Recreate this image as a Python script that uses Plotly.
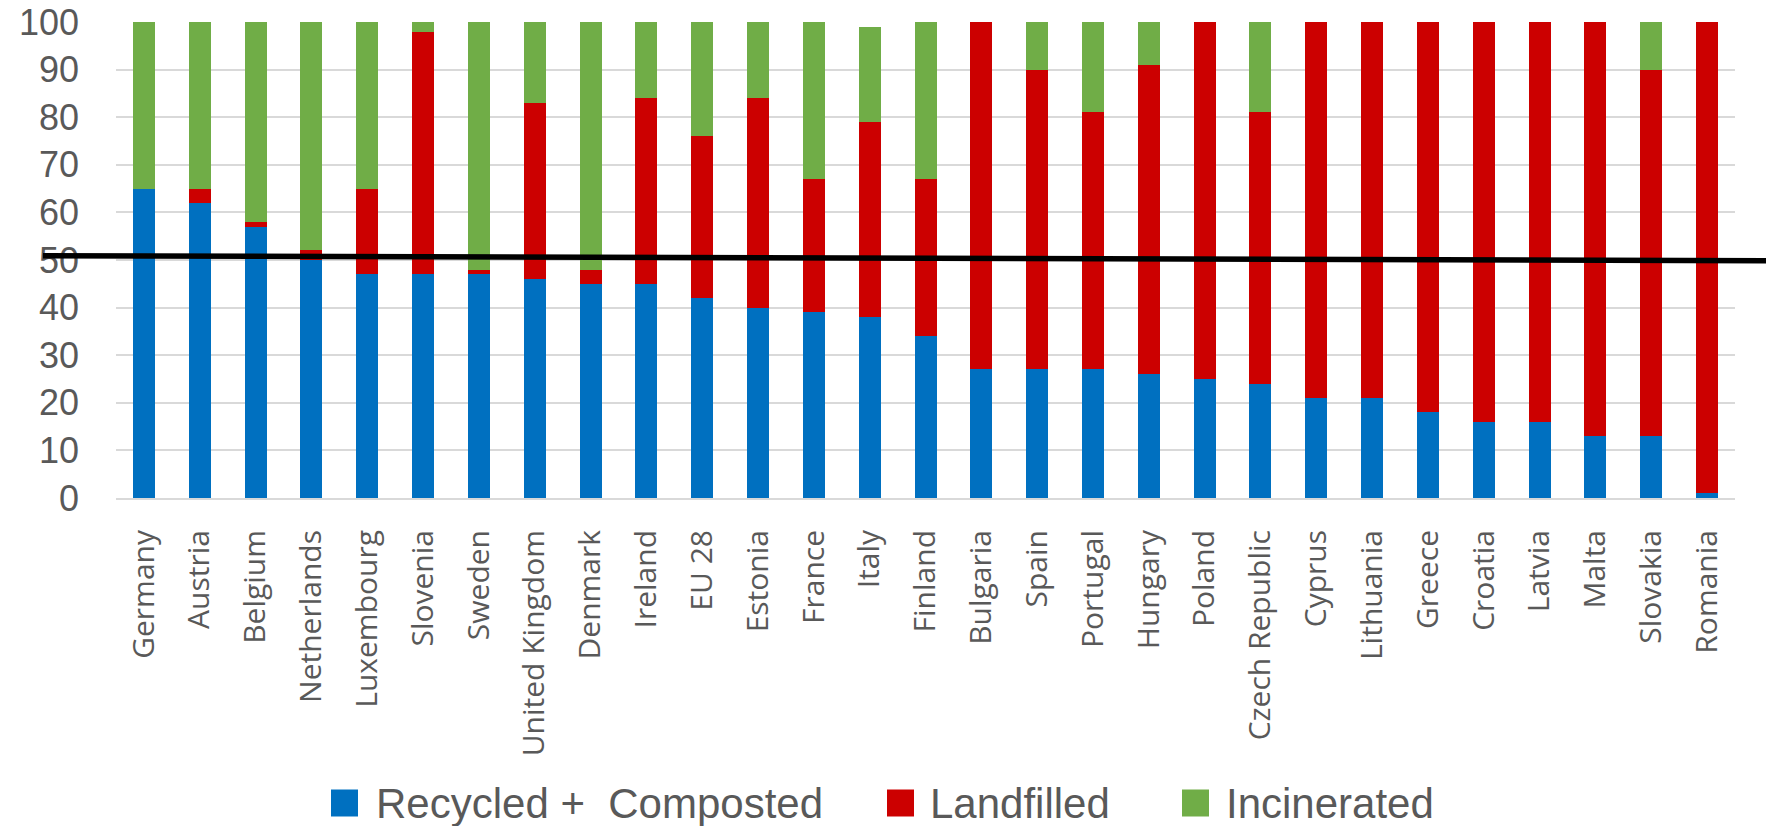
import plotly.graph_objects as go

# Municipal waste treatment shares (%) by country
countries = [
    "Germany", "Austria", "Belgium", "Netherlands", "Luxembourg", "Slovenia",
    "Sweden", "United Kingdom", "Denmark", "Ireland", "EU 28", "Estonia",
    "France", "Italy", "Finland", "Bulgaria", "Spain", "Portugal", "Hungary",
    "Poland", "Czech Republic", "Cyprus", "Lithuania", "Greece", "Croatia",
    "Latvia", "Malta", "Slovakia", "Romania",
]
recycled = [65, 62, 57, 50, 47, 47, 47, 46, 45, 45, 42, 40, 39, 38, 34,
            27, 27, 27, 26, 25, 24, 21, 21, 18, 16, 16, 13, 13, 1]
landfilled = [0, 3, 1, 2, 18, 51, 1, 37, 3, 39, 34, 44, 28, 41, 33,
              73, 63, 54, 65, 75, 57, 79, 79, 82, 84, 84, 87, 77, 99]
incinerated = [35, 35, 42, 48, 35, 2, 52, 17, 52, 16, 24, 16, 33, 20, 33,
               0, 10, 19, 9, 0, 19, 0, 0, 0, 0, 0, 0, 10, 0]

series_names = ["Recycled +\u00a0 Composted", "Landfilled", "Incinerated"]
series_values = [recycled, landfilled, incinerated]
series_colors = ["#0070C0", "#CC0000", "#70AD47"]

y_ticks = list(range(0, 101, 10))

# hand-drawn 50% marker line, left and right end levels
marker_line_levels = [50.9, 49.85]

W, H = 1768, 826
ML, MR, MT, MB = 116, 33, 22, 328
PW, PH = W - ML - MR, H - MT - MB


def px_x(px):
    return (px - ML) / PW


def px_y(py):
    return (H - MB - py) / PH


fig = go.Figure()
for name, vals, col in zip(series_names, series_values, series_colors):
    fig.add_trace(go.Bar(
        x=countries, y=vals, name=name,
        marker=dict(color=col, line=dict(width=0)),
        showlegend=False,
    ))

# black line across the chart near the 50% level
fig.add_shape(
    type="line", xref="paper", yref="y",
    x0=px_x(43), x1=px_x(1766),
    y0=marker_line_levels[0], y1=marker_line_levels[1],
    line=dict(color="#000000", width=5.5),
    layer="above",
)

# legend row drawn below the category labels
legend_square_left = [331, 887, 1182]
legend_text_left = [374, 928, 1224]
legend_center_y = 803
sq = 27
for name, col, sx, tx in zip(series_names, series_colors,
                             legend_square_left, legend_text_left):
    fig.add_shape(
        type="rect", xref="paper", yref="paper",
        x0=px_x(sx), x1=px_x(sx + sq),
        y0=px_y(legend_center_y + sq / 2), y1=px_y(legend_center_y - sq / 2),
        fillcolor=col, line=dict(width=0),
    )
    fig.add_annotation(
        xref="paper", yref="paper",
        x=px_x(tx), y=px_y(legend_center_y),
        xanchor="left", yanchor="middle",
        text=name, showarrow=False,
        font=dict(family="Liberation Sans", size=42, color="#595959"),
    )

fig.update_layout(
    width=W, height=H,
    margin=dict(l=ML, r=MR, t=MT, b=MB, pad=0),
    paper_bgcolor="white", plot_bgcolor="white",
    barmode="stack", bargap=0.606,
    showlegend=False,
)
fig.update_xaxes(
    tickangle=-90,
    tickfont=dict(family="Open Sans", size=30, color="#595959"),
    showgrid=False, showline=True, linecolor="#D9D9D9", linewidth=2,
    ticks="", ticklabelstandoff=18, automargin=False,
)
fig.update_yaxes(
    range=[0, 100], tickvals=y_ticks,
    tickfont=dict(family="Liberation Sans", size=36, color="#595959"),
    showgrid=True, gridcolor="#D9D9D9", gridwidth=2,
    zeroline=False, showline=False,
    ticks="", ticklabelstandoff=36, automargin=False,
)

fig.write_html("out.html")
